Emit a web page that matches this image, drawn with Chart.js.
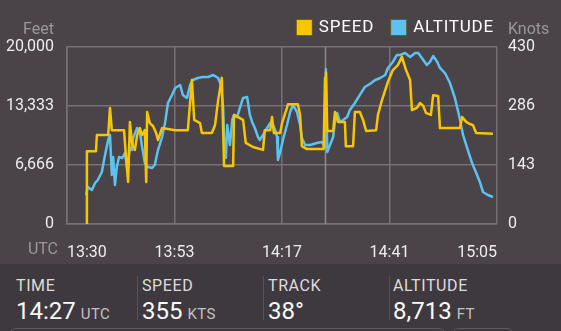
<!DOCTYPE html>
<html>
<head>
<meta charset="utf-8">
<script src="https://cdn.jsdelivr.net/npm/chart.js@4.4.1/dist/chart.umd.min.js"></script>
<style>
  html, body { margin: 0; padding: 0; background: #4a4449; }
  body { width: 561px; height: 331px; overflow: hidden; position: relative; font-family: Roboto, "Noto Sans", sans-serif; }
  #wrap { position: absolute; left: 0; top: 0; width: 561px; height: 262px; }
  #panel { position: absolute; left: 0; top: 264px; width: 561px; height: 67px; background: #3e393e; }
  .cell { position: absolute; top: 0; height: 64px; white-space: nowrap; }
  .cell .k { position: absolute; left: 0; top: 12px; font-size: 16px; letter-spacing: 0.6px; color: #dedcde; }
  .cell .v { position: absolute; left: 0; top: 33px; font-size: 24px; color: #fafafa; }
  .cell .v small { font-size: 15px; color: #c4c1c4; margin-left: 5px; letter-spacing: 0.4px; }
  .sep { position: absolute; top: 12px; width: 1px; height: 44px; background: #56515a; }
  .edge { position: absolute; top: 64px; height: 6px; border-top: 1px solid #5e595e; border-radius: 6px 6px 0 0; }
</style>
</head>
<body>
<div id="wrap"><canvas id="flight" width="561" height="262"></canvas></div>
<div id="panel">
  <div class="cell" style="left:16px"><div class="k">TIME</div><div class="v">14:27<small>UTC</small></div></div>
  <div class="sep" style="left:137px"></div>
  <div class="cell" style="left:142px"><div class="k">SPEED</div><div class="v">355<small>KTS</small></div></div>
  <div class="sep" style="left:263px"></div>
  <div class="cell" style="left:268px"><div class="k">TRACK</div><div class="v">38°</div></div>
  <div class="sep" style="left:389px"></div>
  <div class="cell" style="left:393px"><div class="k">ALTITUDE</div><div class="v">8,713<small>FT</small></div></div>
  <div class="edge" style="left:10px; width:435px"></div>
  <div class="edge" style="left:453px; width:60px"></div>
</div>
<script>
// x axis: minutes after 13:30 UTC
const xTicks = [0, 23.75, 47.5, 71.25, 95];
const xTickLabels = ['13:30', '13:53', '14:17', '14:41', '15:05'];
const feetTicks = [0, 6666, 13333, 20000];
const knotTicks = [0, 143, 286, 430];

// ground speed (knots)
const speedMin = [4.2, 4.4, 6.4, 6.6, 9.1, 9.5, 9.9, 12.6, 13.0, 13.5, 13.9, 14.4, 15.0, 15.5, 16.1, 16.6, 17.2, 17.5, 17.7, 18.3,
  19.0, 19.7, 20.1, 21.0, 23.9, 26.7, 27.6, 28.1, 29.4, 29.8, 32.0, 32.7, 33.4, 34.2, 34.7, 36.7, 36.9, 38.9, 39.5, 41.1,
  43.3, 43.7, 44.9, 45.3, 45.7, 47.1, 47.5, 48.6, 48.8, 51.0, 51.5, 51.9, 53.0, 56.7, 57.0, 57.2, 57.5, 58.8, 59.2, 59.9,
  61.4, 61.6, 63.2, 63.6, 64.7, 65.4, 66.1, 68.3, 68.7, 69.4, 70.3, 70.9, 72.0, 73.1, 74.0, 74.9, 75.8, 76.2, 77.3, 78.0,
  78.7, 79.3, 80.4, 80.9, 82.0, 82.4, 86.8, 87.3, 88.2, 89.0, 89.7, 90.4, 94.1];
const speedKts = [0, 177, 177, 216, 216, 282, 228, 228, 168, 102, 248, 192, 180, 216, 233, 216, 228, 102, 272, 245,
  238, 221, 204, 233, 228, 228, 350, 253, 245, 221, 221, 240, 301, 355, 141, 141, 265, 253, 197, 187,
  180, 228, 228, 260, 221, 221, 245, 282, 291, 291, 265, 189, 182, 182, 355, 368, 226, 226, 272, 248,
  248, 189, 189, 272, 272, 253, 226, 228, 265, 294, 325, 345, 374, 386, 406, 374, 350, 277, 282, 294,
  287, 270, 265, 313, 311, 233, 233, 260, 248, 243, 240, 221, 219];

// altitude (feet)
const altMin = [4.2, 4.6, 5.5, 6.2, 6.8, 7.7, 8.4, 9.1, 9.5, 9.9, 10.2, 10.6, 11.0, 11.5, 12.2, 12.8, 13.3, 13.9, 14.4, 14.6,
  15.5, 16.1, 16.6, 17.2, 17.9, 18.8, 19.4, 20.1, 21.0, 21.7, 22.3, 23.2, 23.9, 25.0, 25.6, 26.5, 27.2, 27.8, 28.9, 30.0,
  31.2, 32.3, 33.4, 34.0, 34.5, 34.7, 35.1, 35.4, 35.6, 36.0, 36.5, 36.9, 37.6, 38.2, 38.9, 39.8, 40.4, 40.9, 41.5, 42.2,
  42.6, 43.3, 44.2, 44.9, 45.5, 46.0, 46.4, 46.6, 47.1, 47.7, 48.6, 49.3, 49.9, 50.8, 51.5, 51.9, 52.6, 53.7, 55.2, 56.3,
  57.0, 57.2, 57.5, 58.1, 58.8, 59.2, 59.7, 60.3, 61.0, 61.9, 62.5, 63.6, 64.7, 65.8, 66.9, 68.1, 69.2, 70.3, 70.9, 72.0,
  72.9, 73.6, 74.7, 75.8, 76.9, 77.6, 78.4, 79.5, 80.2, 80.9, 81.8, 82.4, 83.5, 84.6, 85.7, 86.6, 87.5, 88.4, 89.5, 90.6,
  91.3, 91.9, 93.0, 94.1];
const altFeet = [3280, 4180, 3840, 4630, 4970, 5880, 7800, 9490, 10060, 5540, 7570, 4410, 6440, 7570, 7460, 8020, 6330, 8700, 8360, 9720,
  10850, 10400, 8700, 6890, 6440, 6330, 6670, 8360, 9830, 11530, 13670, 14580, 15370, 15710, 14580, 14240, 15710, 16270, 16500, 16610,
  16610, 16840, 16500, 15710, 13110, 9720, 7460, 11190, 10400, 8930, 11750, 12320, 12090, 13110, 14240, 14350, 12320, 11530, 10850, 9830,
  9490, 10060, 10850, 11410, 11190, 10620, 9830, 7230, 8140, 9490, 11190, 12660, 13450, 12660, 11190, 9720, 8930, 8930, 9150, 9270,
  8713, 17500, 8140, 8930, 9830, 11530, 12540, 11530, 11750, 12090, 12880, 13670, 14580, 15480, 15820, 16270, 16500, 16840, 17630, 18310,
  19100, 19100, 19320, 18870, 19320, 19320, 18760, 17970, 18310, 18980, 18310, 17630, 17060, 15930, 14240, 12320, 10060, 8590, 6890, 5540,
  4630, 3620, 3280, 3050];

const cursorMin = 57; // 14:27 UTC

const YELLOW = '#f7c600';
const BLUE = '#5bc2f2';
const gridColor = '#777177';
const tickColor = '#ededed';
const dimColor = '#9c979c';
const font = { family: 'Roboto, "Noto Sans", sans-serif', size: 16 };

const toPoints = (xs, ys) => xs.map((x, i) => ({ x, y: ys[i] }));

// axis captions, legend and the time cursor
const overlay = {
  id: 'overlay',
  beforeDatasetsDraw(chart) {
    const { ctx, chartArea } = chart;
    const x = Math.round(chart.scales.x.getPixelForValue(cursorMin)) + 0.5;
    ctx.save();
    ctx.strokeStyle = '#8f8a8f';
    ctx.lineWidth = 1.5;
    ctx.beginPath();
    ctx.moveTo(x, chartArea.top);
    ctx.lineTo(x, chartArea.bottom);
    ctx.stroke();
    ctx.restore();
  },
  afterDraw(chart) {
    const { ctx, chartArea } = chart;
    ctx.save();
    ctx.font = '16px Roboto, "Noto Sans", sans-serif';
    ctx.fillStyle = dimColor;
    ctx.textBaseline = 'middle';
    ctx.textAlign = 'right';
    ctx.fillText('Feet', 54, 30);
    ctx.fillText('UTC', 58, 250);
    ctx.textAlign = 'left';
    ctx.fillText('Knots', chartArea.right + 11, 30);

    // legend, right-aligned above the plot
    ctx.font = '17px Roboto, "Noto Sans", sans-serif';
    ctx.letterSpacing = '0.8px';
    const items = [['SPEED', YELLOW], ['ALTITUDE', BLUE]];
    let x = 494;
    for (let i = items.length - 1; i >= 0; i--) {
      const [label, color] = items[i];
      const w = ctx.measureText(label).width;
      x -= w;
      ctx.fillStyle = '#ffffff';
      ctx.fillText(label, x, 28);
      x -= 7 + 15;
      ctx.fillStyle = '#6b5a2a';
      ctx.fillRect(x - 1, 19, 17, 17);
      ctx.fillStyle = color;
      ctx.fillRect(x, 20, 15, 15);
      x -= 17;
    }
    ctx.restore();
  }
};

new Chart(document.getElementById('flight'), {
  type: 'line',
  data: {
    datasets: [
      {
        label: 'SPEED',
        data: toPoints(speedMin, speedKts),
        borderColor: YELLOW,
        yAxisID: 'ySpeed'
      },
      {
        label: 'ALTITUDE',
        data: toPoints(altMin, altFeet),
        borderColor: BLUE,
        yAxisID: 'yAlt'
      }
    ]
  },
  options: {
    responsive: false,
    animation: false,
    layout: { padding: { top: 47, left: 0, right: 0, bottom: 0 } },
    plugins: { legend: { display: false }, tooltip: { enabled: false } },
    elements: {
      point: { radius: 0 },
      line: { borderWidth: 2.5, tension: 0, borderJoinStyle: 'round' }
    },
    scales: {
      x: {
        type: 'linear', min: 0, max: 95,
        afterBuildTicks: s => { s.ticks = xTicks.map(v => ({ value: v })); },
        afterFit: s => { s.height = 38; },
        grid: { color: gridColor, lineWidth: 1.5, drawTicks: false },
        border: { color: gridColor, width: 1.5 },
        ticks: {
          align: 'inner', padding: 19, color: tickColor, font,
          maxRotation: 0, autoSkip: false,
          callback: (v, i) => xTickLabels[i]
        }
      },
      yAlt: {
        position: 'left', min: 0, max: 20000,
        afterBuildTicks: s => { s.ticks = feetTicks.map(v => ({ value: v })); },
        afterFit: s => { s.width = 67; },
        grid: { color: gridColor, lineWidth: 1.5, drawTicks: false },
        border: { color: gridColor, width: 1.5 },
        ticks: {
          padding: 13, color: tickColor, font, autoSkip: false,
          callback: (v, i) => feetTicks[i].toLocaleString('en-US')
        }
      },
      ySpeed: {
        position: 'right', min: 0, max: 430,
        afterBuildTicks: s => { s.ticks = knotTicks.map(v => ({ value: v })); },
        afterFit: s => { s.width = 64; },
        grid: { display: false, drawTicks: false },
        border: { display: false },
        ticks: {
          padding: 11, color: tickColor, font, autoSkip: false,
          callback: (v, i) => String(knotTicks[i])
        }
      }
    }
  },
  plugins: [overlay]
});
</script>
</body>
</html>
